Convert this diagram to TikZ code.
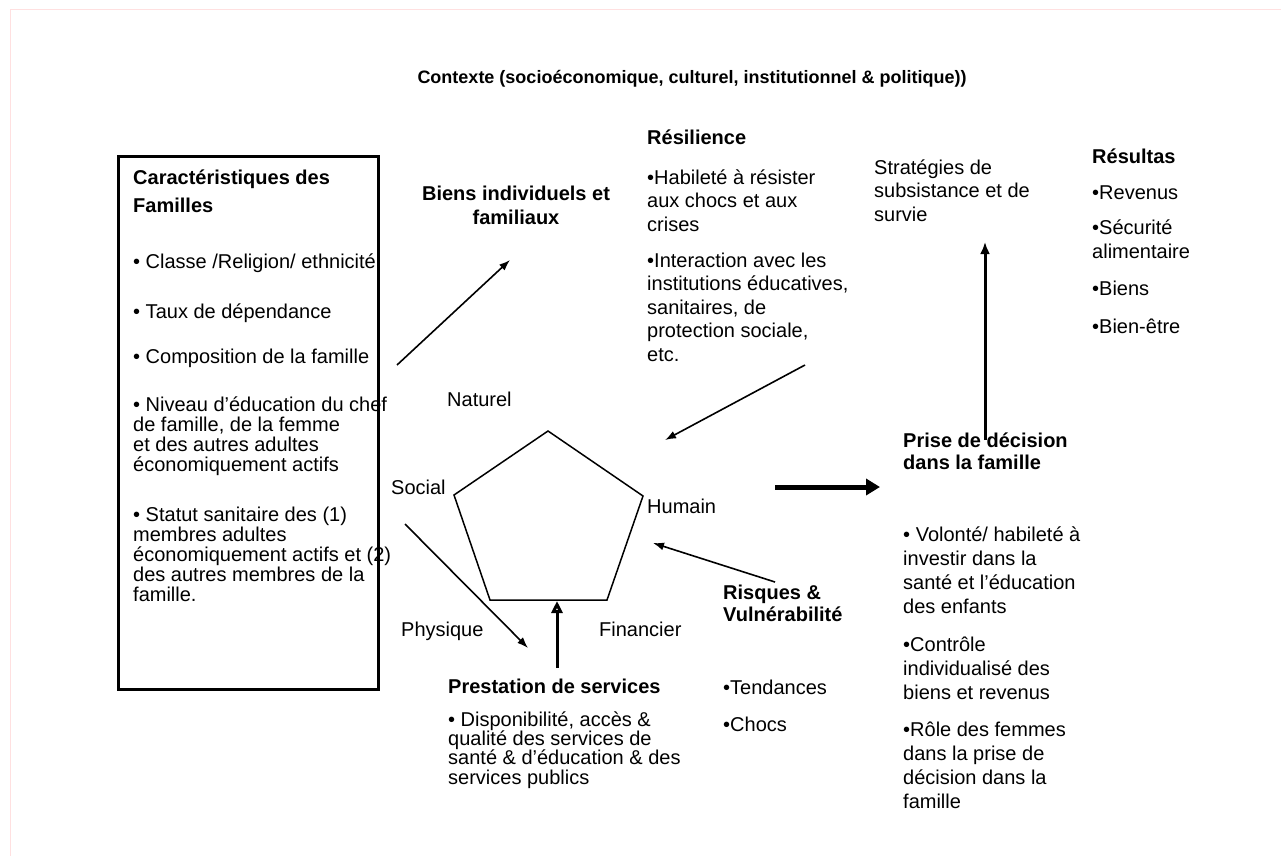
\documentclass[tikz,border=0pt]{standalone}
\usepackage{fontspec}
\setmainfont{Liberation Sans}
\usetikzlibrary{arrows.meta,positioning,calc}

\tikzset{
  txt/.style={anchor=base west,align=left,inner sep=0pt,font=\fontsize{20}{23.5}\selectfont},
  tight/.style={txt,font=\fontsize{20}{19.7}\selectfont},
  head/.style={txt,font=\fontsize{20}{23.5}\selectfont\bfseries},
  capital/.style={anchor=base west,inner sep=0pt,font=\fontsize{20}{23.5}\selectfont},
  fine/.style={-{Latex[length=11pt,width=8pt]},line width=1.6pt},
  heavy/.style={-{Latex[length=12pt,width=10pt]},line width=3pt},
}

\begin{document}
\begin{tikzpicture}[x=1pt,y=-1pt]
  \useasboundingbox (0,0) rectangle (1281,856);
  \fill[white] (0,0) rectangle (1281,856);
  \draw[red!12,line width=1pt] (10,856) -- (10,10) -- (1281,10);

  % multi-line nodes sit on the baseline of their last line
  \node[anchor=base,inner sep=0pt,font=\fontsize{18}{22}\selectfont\bfseries] (contexte) at (692,84)
    {Contexte (socioéconomique, culturel, institutionnel \& politique))};

  % caracteristiques des familles
  \node[draw,line width=2.5pt,minimum width=260pt,minimum height=533pt,anchor=north west] (famille) at (117,155) {};
  \node[head,font=\fontsize{20}{28}\selectfont\bfseries] (carac) at (133,212) {Caractéristiques des\\Familles};
  \foreach \y/\lab in {268/{Classe /Religion/ ethnicité},
                       318/{Taux de dépendance},
                       363/{Composition de la famille}}{
    \node[capital] (crit-\y) at (133,\y) {• \lab};}
  \node[tight] (niveau) at (133,471) {• Niveau d'éducation du chef\\de famille, de la femme\\et des autres adultes\\économiquement actifs};
  \node[tight,font=\fontsize{20}{20}\selectfont] (statut) at (133,601) {• Statut sanitaire des (1)\\membres adultes\\économiquement actifs et (2)\\des autres membres de la\\famille.};

  \node[head,align=center,anchor=base] (biens) at (516,224) {Biens individuels et\\familiaux};

  \node[head] (resil) at (647,144) {Résilience};
  \node[txt] (resil-b) at (647,361) {•Habileté à résister\\aux chocs et aux\\crises\\[12.5pt]•Interaction avec les\\institutions éducatives,\\sanitaires, de\\protection sociale,\\etc.};

  \node[txt] (strat) at (874,221) {Stratégies de\\subsistance et de\\survie};
  \node[head] (resul) at (1092,163) {Résultas};
  \node[txt] (resul-b) at (1092,333) {•Revenus\\[11.5pt]•Sécurité\\alimentaire\\[14pt]•Biens\\[14pt]•Bien-être};

  \node[head,font=\fontsize{20}{21.5}\selectfont\bfseries] (prise) at (903,469) {Prise de décision\\dans la famille};
  \node[txt,font=\fontsize{20}{24}\selectfont] (prise-b) at (903,808) {• Volonté/ habileté à\\investir dans la\\santé et l'éducation\\des enfants\\[13.5pt]•Contrôle\\individualisé des\\biens et revenus\\[13pt]•Rôle des femmes\\dans la prise de\\décision dans la\\famille};

  \node[head,font=\fontsize{20}{22}\selectfont\bfseries] (risques) at (723,621) {Risques \&\\Vulnérabilité};
  \node[txt] (risques-b) at (723,731) {•Tendances\\[13.5pt]•Chocs};

  \node[head] (prest) at (448,693) {Prestation de services};
  \node[tight,font=\fontsize{20}{19.3}\selectfont] (prest-b) at (448,784) {• Disponibilité, accès \&\\qualité des services de\\santé \& d'éducation \& des\\services publics};

  % les cinq capitaux
  \node[capital] (naturel) at (447,406) {Naturel};
  \node[capital] (social) at (391,494) {Social};
  \node[capital] (humain) at (647,513) {Humain};
  \node[capital] (physique) at (401,636) {Physique};
  \node[capital] (financier) at (599,636) {Financier};

  \coordinate (p-n) at (548,431);
  \coordinate (p-e) at (643,496);
  \coordinate (p-se) at (607,600);
  \coordinate (p-sw) at (490,600);
  \coordinate (p-w) at (454,495);
  \coordinate (p-s) at (557,601);
  \draw[line width=1.5pt] (p-n) -- (p-e) -- (p-se) -- (p-sw) -- (p-w) -- cycle;

  % fleches
  \coordinate (fam-out) at (397,365);
  \coordinate (biens-in) at (510,260);
  \coordinate (resil-out) at (805,365);
  \coordinate (penta-ne) at (665,440);
  \coordinate (social-out) at (405,524);
  \coordinate (prest-in) at (528,648);
  \coordinate (prest-out) at (557,668);
  \coordinate (risques-out) at (775,582);
  \coordinate (penta-e) at (653,543);
  \coordinate (humain-out) at (775,487);
  \coordinate (prise-in) at (880,487);
  \coordinate (prise-out) at (985,440);
  \coordinate (strat-in) at (985,242);

  \draw[fine] (fam-out) -- (biens-in);
  \draw[fine] (resil-out) -- (penta-ne);
  \draw[fine] (social-out) -- (prest-in);
  \draw[fine] (risques-out) -- (penta-e);
  \draw[heavy] (prise-out) -- (strat-in);
  \draw[-{Triangle[open,length=12pt,width=11pt]},line width=3pt] (prest-out) -- (p-s);
  \draw[-{Triangle[length=14pt,width=16pt]},line width=5pt] (humain-out) -- (prise-in);
\end{tikzpicture}
\end{document}
